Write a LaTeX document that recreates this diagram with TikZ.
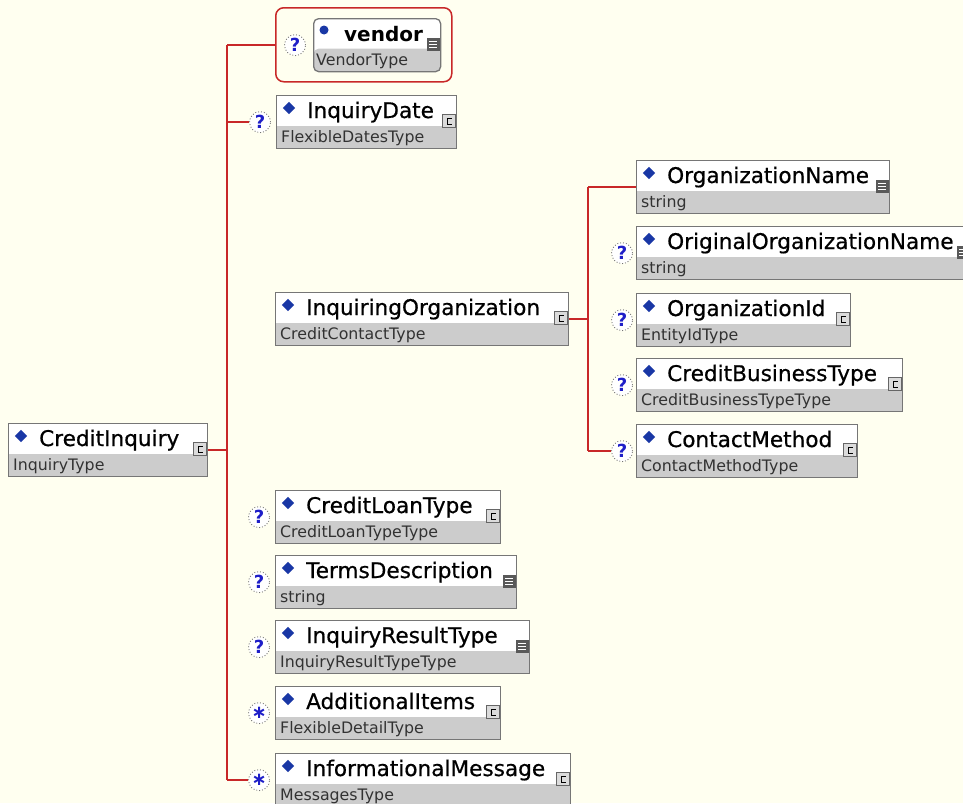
\documentclass[tikz,border=0pt]{standalone}
\usepackage{fontspec}
\setmainfont{DejaVu Sans}
\newfontfamily\namefont[FakeBold=0.6]{DejaVu Sans}
\usetikzlibrary{shapes.geometric, positioning, calc}
\definecolor{bgcream}{RGB}{255,255,240}
\definecolor{linkred}{RGB}{200,40,40}
\definecolor{boxgray}{RGB}{118,118,118}
\definecolor{typegray}{RGB}{204,204,204}
\definecolor{diamblue}{RGB}{25,55,165}
\definecolor{qblue}{RGB}{30,30,200}
\definecolor{typetxt}{RGB}{50,50,50}

\tikzset{
  elbox/.style={draw=boxgray, line width=1.3pt, fill=white, anchor=north west,
    minimum height=53pt, inner sep=0pt,
    path picture={\fill[typegray] ([yshift=23pt]path picture bounding box.south west)
      rectangle (path picture bounding box.south east);}},
  nametext/.style={anchor=base west, inner sep=0pt, font=\namefont\fontsize{21.6}{22}\selectfont},
  typetext/.style={anchor=base west, inner sep=0pt, text=typetxt, font=\fontsize{15.8}{16}\selectfont},
  diam/.style={diamond, fill=diamblue, inner sep=0pt, minimum size=12.5pt},
  cplxicon/.style={draw=black!60, fill=typegray!70, line width=0.9pt, minimum size=13pt, inner sep=0pt,
    path picture={\draw[black, line width=1pt] ([shift={(2.5pt,3pt)}]path picture bounding box.center)
      -- ++(-4pt,0) -- ++(0,-6pt) -- ++(4pt,0);}},
  smplicon/.style={fill=black!65, minimum size=13pt, inner sep=0pt,
    path picture={\foreach \k in {-3,0,3}
      \draw[white, line width=0.9pt] ([shift={(-4pt,\k pt)}]path picture bounding box.center) -- ++(8pt,0);}},
  optmark/.style={circle, draw=black!55, dotted, line width=0.9pt, fill=white, text=qblue, minimum size=21pt,
    inner sep=0pt, font=\bfseries\fontsize{18}{18}\selectfont},
  link/.style={draw=linkred, line width=1.5pt},
}

% element box: name, x, y, width, label, type, icon
\newcommand{\xelem}[7]{%
  \node[elbox, minimum width=#4pt] (#1) at (#2,#3) {};
  \node[diam] (#1-dia) at ([shift={(13pt,-13pt)}]#1.north west) {};
  \node[nametext] (#1-name) at ([shift={(31pt,-23pt)}]#1.north west) {#5};
  \node[typetext] (#1-type) at ([shift={(5pt,-47pt)}]#1.north west) {#6};
  \node[#7] (#1-icon) at ([shift={(-8pt,-26pt)}]#1.north east) {};
}

\begin{document}
\begin{tikzpicture}[x=1pt, y=-1pt]
\fill[bgcream] (0,0) rectangle (963,803);
\useasboundingbox (0,0) rectangle (963,803);
\clip (0,0) rectangle (963,803);

% root
\xelem{root}{8}{423}{199}{CreditInquiry}{InquiryType}{cplxicon}

% vendor group
\node[draw=linkred, line width=1.5pt, rounded corners=8pt, minimum width=176pt, minimum height=74pt,
  anchor=north west] (vgroup) at (275,7) {};
\node[elbox, rounded corners=5pt, minimum width=127pt] (vendor) at (313,18) {};
\node[circle, fill=diamblue, minimum size=9pt, inner sep=0pt] (vendor-dot)
  at ([shift={(11pt,-12pt)}]vendor.north west) {};
\node[nametext, font=\bfseries\fontsize{20}{20}\selectfont] (vendor-name)
  at ([shift={(31pt,-23pt)}]vendor.north west) {vendor};
\node[typetext] (vendor-type) at ([shift={(3pt,-47pt)}]vendor.north west) {VendorType};
\node[smplicon] (vendor-icon) at ([shift={(-8pt,-26pt)}]vendor.north east) {};
\node[optmark, left=7pt of vendor] (q-vendor) {?};

% children of CreditInquiry
\xelem{idate}{276}{95}{180}{InquiryDate}{FlexibleDatesType}{cplxicon}
\xelem{inqorg}{275}{292}{293}{InquiringOrganization}{CreditContactType}{cplxicon}
\xelem{loan}{275}{490}{225}{CreditLoanType}{CreditLoanTypeType}{cplxicon}
\xelem{terms}{275}{555}{241}{TermsDescription}{string}{smplicon}
\xelem{result}{275}{620}{254}{InquiryResultType}{InquiryResultTypeType}{smplicon}
\xelem{additems}{275}{686}{225}{AdditionalItems}{FlexibleDetailType}{cplxicon}
\xelem{infomsg}{275}{753}{295}{InformationalMessage}{MessagesType}{cplxicon}

\node[optmark, left=5pt of idate] (q-idate) {?};
\node[optmark, left=5pt of loan] (q-loan) {?};
\node[optmark, left=5pt of terms] (q-terms) {?};
\node[optmark, left=5pt of result] (q-result) {?};
\node[optmark, left=5pt of additems] (q-additems) {∗};
\node[optmark, left=5pt of infomsg] (q-infomsg) {∗};

% children of InquiringOrganization
\xelem{orgname}{636}{160}{253}{OrganizationName}{string}{smplicon}
\xelem{origname}{636}{226}{334}{OriginalOrganizationName}{string}{smplicon}
\xelem{orgid}{636}{293}{214}{OrganizationId}{EntityIdType}{cplxicon}
\xelem{bustype}{636}{358}{266}{CreditBusinessType}{CreditBusinessTypeType}{cplxicon}
\xelem{contact}{636}{424}{221}{ContactMethod}{ContactMethodType}{cplxicon}

\node[optmark, left=3pt of origname] (q-origname) {?};
\node[optmark, left=3pt of orgid] (q-orgid) {?};
\node[optmark, left=3pt of bustype] (q-bustype) {?};
\node[optmark, left=3pt of contact] (q-contact) {?};

% connectors
\coordinate (bus) at (227,0);
\draw[link] (root.east) -- (root.east -| bus);
\draw[link] (vgroup.west -| bus) -- (q-infomsg.west -| bus);
\draw[link] (vgroup.west -| bus) -- (vgroup.west);
\draw[link] (q-idate.west -| bus) -- (q-idate.west);
\draw[link] (q-infomsg.west -| bus) -- (q-infomsg.west);

\coordinate (sbus) at (588,0);
\draw[link] (inqorg.east) -- (inqorg.east -| sbus);
\draw[link] (orgname.west -| sbus) -- (q-contact.west -| sbus);
\draw[link] (orgname.west -| sbus) -- (orgname.west);
\draw[link] (q-contact.west -| sbus) -- (q-contact.west);
\end{tikzpicture}
\end{document}
